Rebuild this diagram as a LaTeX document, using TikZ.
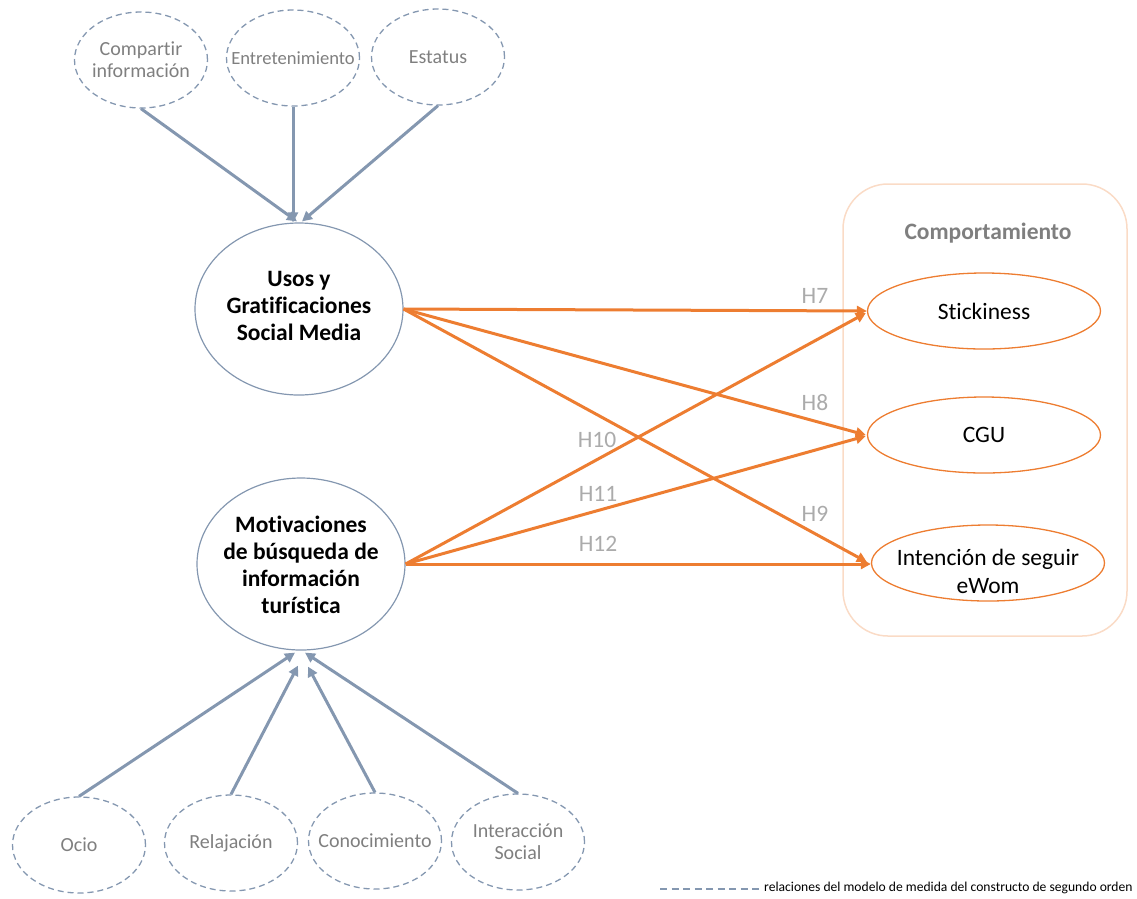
\documentclass[tikz,border=0pt]{standalone}
\usepackage{fontspec}
\setmainfont{Carlito}[Ligatures=NoCommon]
\usetikzlibrary{shapes.geometric,arrows.meta}
\definecolor{bluegray}{HTML}{8497B0}
\definecolor{orng}{HTML}{ED7D31}
\definecolor{txtgray}{HTML}{7F7F7F}
\definecolor{hgray}{HTML}{ABABAB}
\definecolor{boxline}{HTML}{FADBC6}
\begin{document}
\begin{tikzpicture}[x=1pt,y=-1pt,
  dimellipse/.style={ellipse,draw=bluegray,line width=1.3pt,dash pattern=on 6pt off 4pt,
    minimum width=133pt,minimum height=96pt,inner sep=0pt},
  dimtext/.style={text=txtgray,font=\fontsize{20}{22}\selectfont,align=center,inner sep=0pt},
  mainellipse/.style={ellipse,draw=bluegray,line width=1.2pt,
    minimum width=208pt,minimum height=172pt,inner sep=0pt},
  maintext/.style={font=\fontsize{23.5}{26.8}\selectfont\bfseries,align=center,inner sep=0pt},
  outellipse/.style={ellipse,draw=orng,line width=1.3pt,
    minimum width=233pt,minimum height=76pt,inner sep=0pt},
  outtext/.style={font=\fontsize{23.5}{28}\selectfont,align=center,inner sep=0pt},
  hlabel/.style={text=hgray,font=\fontsize{23.5}{26}\selectfont,inner sep=0pt},
  dimarrow/.style={draw=bluegray,line width=3pt,-{Triangle[length=10pt,width=10pt]}},
  hyparrow/.style={draw=orng,line width=3pt,-{Triangle[length=10pt,width=10pt]}}
]
\useasboundingbox (0,0) rectangle (1137,898);

% outcome group frame
\node[draw=boxline,line width=1.5pt,rounded corners=45pt,minimum width=284pt,
  minimum height=452pt,inner sep=0pt] (frame) at (985,410) {};
\node[text=txtgray,font=\fontsize{23.5}{26}\selectfont\bfseries,inner sep=0pt] (frametitle) at (988,233) {Comportamiento};

% first-order dimensions of uses and gratifications
\node[dimellipse,label={[dimtext]center:Compartir\\información}] (ci) at (141,60) {};
\node[dimellipse,label={[dimtext,font=\fontsize{18.6}{22}\selectfont]center:Entretenimiento}] (en) at (293,58) {};
\node[dimellipse,label={[dimtext]center:Estatus}] (es) at (438,57) {};

% second-order constructs
\node[mainellipse,label={[maintext,yshift=3pt]center:Usos y\\Gratificaciones\\Social Media}] (usos) at (299,309) {};
\node[mainellipse,label={[maintext,yshift=-1pt]center:Motivaciones\\de búsqueda de\\información\\turística}] (mot) at (301,564) {};

% first-order dimensions of information search motivations
\node[dimellipse,label={[dimtext]center:Ocio}] (ocio) at (79,845) {};
\node[dimellipse,label={[dimtext]center:Relajación}] (rel) at (231,843) {};
\node[dimellipse,label={[dimtext]center:Conocimiento}] (con) at (375,841) {};
\node[dimellipse,label={[dimtext]center:Interacción\\Social}] (inter) at (518,842) {};

% outcomes
\node[outellipse,label={[outtext]center:Stickiness}] (stk) at (984,311) {};
\node[outellipse,label={[outtext]center:CGU}] (cgu) at (984,435) {};
\node[outellipse,label={[outtext,yshift=-8pt]center:Intención de seguir\\eWom}] (ewom) at (988,563) {};

% measurement relations
\draw[dimarrow] (ci.south) -- ([xshift=-2pt,yshift=1pt]usos.north);
\draw[dimarrow] (en.south) -- (en.south |- usos.north);
\draw[dimarrow] (es.south) -- ([xshift=3pt,yshift=1pt]usos.north);
\draw[dimarrow] (ocio.north) -- ([xshift=-6pt,yshift=-2pt]mot.south);
\draw[dimarrow] (rel.north) -- ([xshift=-3pt,yshift=-15pt]mot.south);
\draw[dimarrow] (con.north) -- ([xshift=7pt,yshift=-16pt]mot.south);
\draw[dimarrow] (inter.north) -- ([xshift=4pt,yshift=-2pt]mot.south);

% hypotheses
\draw[hyparrow] (usos.east) -- (stk.west);
\draw[hyparrow] (usos.east) -- ([xshift=-1pt]cgu.west);
\draw[hyparrow] (usos.east) -- ([xshift=-4pt,yshift=1pt]ewom.west);
\draw[hyparrow] (mot.east) -- ([xshift=-1pt,yshift=-2pt]stk.west);
\draw[hyparrow] (mot.east) -- ([xshift=-1pt,yshift=-1pt]cgu.west);
\draw[hyparrow] (mot.east) -- ([yshift=-1pt]ewom.west);

\node[hlabel] (h7) at (815,296) {H7};
\node[hlabel] (h8) at (815,403) {H8};
\node[hlabel] (h9) at (815,514) {H9};
\node[hlabel] (h10) at (597,440) {H10};
\node[hlabel] (h11) at (598,494) {H11};
\node[hlabel] (h12) at (598,544) {H12};

% legend
\coordinate (legA) at (660,889);
\coordinate (legB) at (760,889);
\draw[draw=bluegray,line width=1.2pt,dash pattern=on 7pt off 4.5pt] (legA) -- (legB);
\node[anchor=west,inner sep=0pt,font=\fontsize{13.6}{15}\selectfont] (legtext) at (764,888)
  {relaciones del modelo de medida del constructo de segundo orden};
\end{tikzpicture}
\end{document}
